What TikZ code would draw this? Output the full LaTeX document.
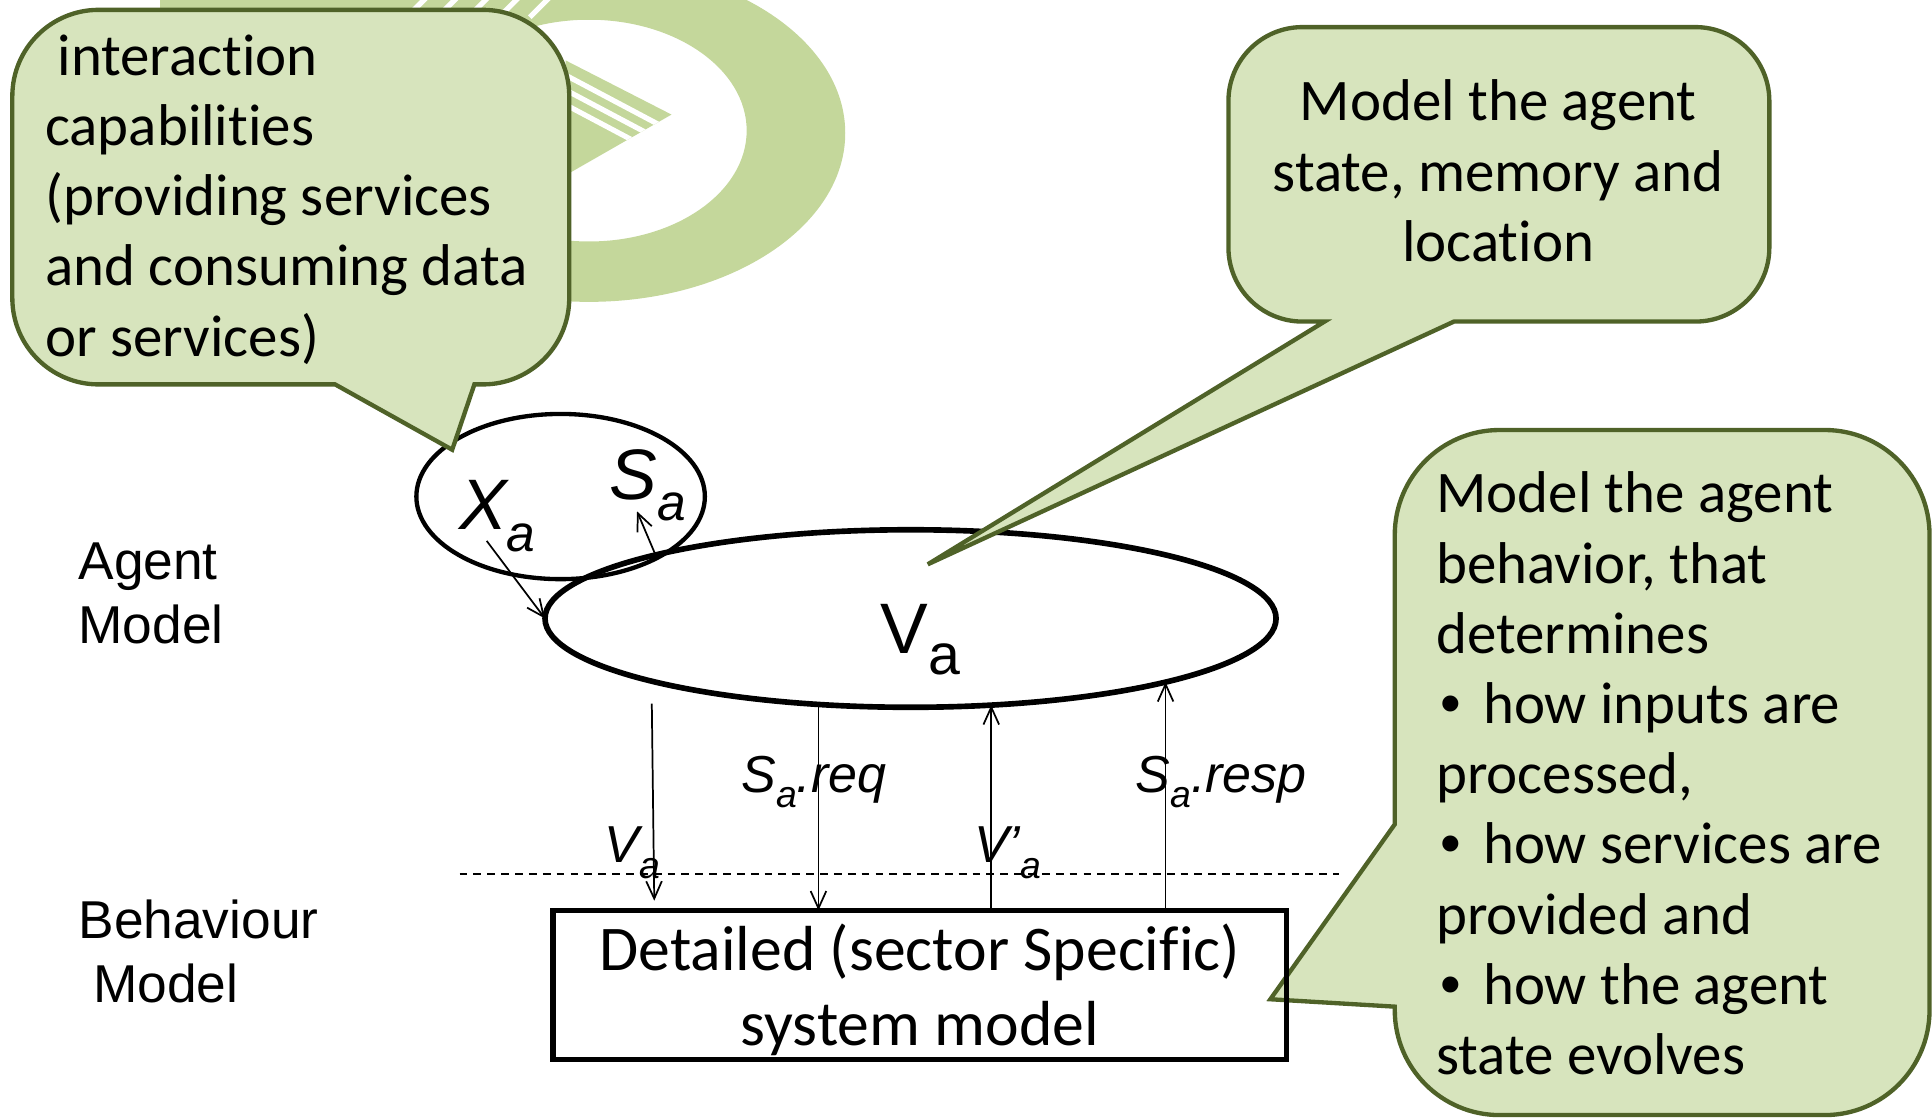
\documentclass[tikz,border=0pt]{standalone}
\usepackage{fontspec}
\usepackage{graphicx}
\setmainfont{Carlito}[Ligatures=NoCommon]
\newfontfamily\arialf{Liberation Sans}
\usetikzlibrary{arrows.meta,shapes.geometric}
\definecolor{callfill}{HTML}{D7E4BD}
\definecolor{calldraw}{HTML}{4F6228}
\definecolor{wmark}{HTML}{C4D79B}
\newcommand{\subA}[1][0.72]{\raisebox{-0.3em}{\scalebox{#1}{a}}}
\newcommand{\bul}{\makebox[0.38cm][l]{\hspace{0.03cm}{\arialf •}}}
\tikzset{
  callout/.style={fill=callfill, draw=calldraw, line width=1pt, line join=miter},
  calltext/.style={inner sep=0pt, font=\fontsize{13.6pt}{16.2pt}\selectfont},
  arr/.style={-{Straight Barb[length=4pt,width=3.6pt]}, line width=0.4pt},
  labtext/.style={inner sep=0pt, anchor=base west, font=\arialf\itshape\fontsize{12pt}{14pt}\selectfont},
  bigtext/.style={inner sep=0pt, anchor=base west, font=\arialf\itshape\fontsize{16.5pt}{18pt}\selectfont},
  sidetext/.style={inner sep=0pt, anchor=base west, align=left, font=\arialf\fontsize{12.3pt}{14.8pt}\selectfont},
  oval/.style={ellipse, draw, inner sep=0pt, outer sep=0pt},
  divider/.style={dash pattern=on 1.8pt off 1.4pt, line width=0.45pt},
}
\begin{document}
\begin{tikzpicture}[x=0.01cm,y=-0.01cm]
\useasboundingbox (0,0) rectangle (1568,907);
% watermark
\begin{scope}
\clip (0,0) rectangle (1568,907);
\fill[wmark, even odd rule] (478,108) ellipse [x radius=208, y radius=137] (478,106) ellipse [x radius=128, y radius=90];
\fill[wmark] (130,-5) rectangle (560,16);
\foreach \x in {330,355,380,405,430} \draw[white, line width=1.2pt] (\x,14) -- (\x+16,-2);
\begin{scope}
\clip (459,49) -- (545,93) -- (463,140) -- cycle;
\fill[wmark] (440,40) rectangle (560,150);
\draw[white, line width=1.2pt] (459,61) -- (559,114);
\draw[white, line width=1.2pt] (459,73) -- (559,126);
\draw[white, line width=1.2pt] (459,85) -- (559,138);
\end{scope}
\end{scope}
% agent model shapes
\node[oval, line width=1pt, minimum width=2.34cm, minimum height=1.34cm] (XS) at (455,403) {};
\node[oval, line width=1.3pt, minimum width=5.93cm, minimum height=1.44cm] (Va) at (739,502) {};
\node[bigtext] (xa) at (372,430) {X\subA};
\node[bigtext] (sa) at (494,405) {S\subA};
\node[inner sep=0pt, anchor=base west, font=\arialf\fontsize{16.5pt}{18pt}\selectfont] (va) at (714,530) {V\subA[0.8]};
% side labels (base anchor = last line)
\node[sidetext] (am) at (63,522) {Agent\\Model};
\node[sidetext] (bm) at (63,814) {Behaviour\\\hspace*{0.12cm}Model};
% arrows
\coordinate (a1s) at (395,439);
\draw[arr] (a1s) -- (Va.west);
\coordinate (a2e) at (517,415);
\draw[arr] (Va.166) -- (a2e);
\coordinate (a3s) at (529,571);
\coordinate (a3e) at (531,731);
\draw[arr] (a3s) -- (a3e);
% divider
\coordinate (dl) at (373,709);
\coordinate (dr) at (1087,709);
\draw[divider] (dl) -- (dr);
% labels
\node[labtext] (lreq) at (601,643) {S\subA.req};
\node[labtext] (lresp) at (921,643) {S\subA.resp};
\node[labtext] (lv) at (490,700) {V\subA};
\node[labtext] (lvp) at (790,700) {V’\subA};
% callouts
\draw[callout] (367,365) -- (385,312) [rounded corners=0.7cm] -- (462,312) -- (462,8) -- (10,8) -- (10,312) [sharp corners] -- (272,312) -- cycle;
\draw[callout] (753,458) -- (1180,261) [rounded corners=0.6cm] -- (1436,261) -- (1436,22) -- (997,22) -- (997,261) [sharp corners] -- (1075,261) -- cycle;
\draw[callout] (1031,811) -- (1132,817) [rounded corners=0.85cm] -- (1132,905) -- (1566,905) -- (1566,349) -- (1132,349) [sharp corners] -- (1132,669) -- cycle;
\node[calltext, anchor=base west, align=left] (t1) at (36,289) {\hspace*{0.1cm}interaction\\capabilities\\(providing services\\and consuming data\\or services)};
\node[calltext, anchor=base, align=center] (t2) at (1216,212) {Model the agent\\state, memory and\\location};
\node[calltext, anchor=base west, align=left] (t3) at (1165,872) {Model the agent\\behavior, that\\determines\\\bul how inputs are\\processed,\\\bul how services are\\provided and\\\bul how the agent\\state evolves};
% behaviour box
\node[draw, line width=1.3pt, minimum width=5.95cm, minimum height=1.21cm, inner sep=0pt, outer sep=0pt] (box) at (746.5,799.5) {};
\node[inner sep=0pt, align=center, font=\fontsize{14.7pt}{17.4pt}\selectfont] (boxtext) at (746.5,803.5) {Detailed (sector Specific)\\system model};
\draw[arr] (Va.223) -- (box.north -| Va.223);
\draw[arr] (box.north -| Va.313) -- (Va.313);
\draw[arr] (box.north -| Va.346) -- (Va.346);
\end{tikzpicture}
\end{document}
